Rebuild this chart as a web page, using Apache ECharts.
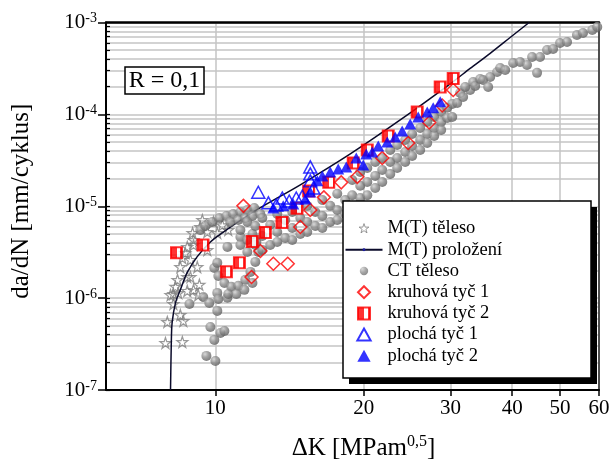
<!DOCTYPE html>
<html>
<head>
<meta charset="utf-8">
<script src="https://cdn.jsdelivr.net/npm/echarts@6/dist/echarts.min.js"></script>
<style>
  html, body { margin: 0; padding: 0; background: #fff; }
  #chart { width: 612px; height: 462px; }
</style>
</head>
<body>
<div id="chart"></div>
<script>
const SERIF = '"Liberation Serif", "Times New Roman", "DejaVu Serif", serif';

// Fatigue crack growth: [ΔK in MPa·m^0.5, da/dN in mm/cycle]
const mtBody = [
  [7.92,3.25e-7],[8.57,3.33e-7],[7.99,5.51e-7],[8.61,5.65e-7],[8.49,6.56e-7],[8.22,8.65e-7],
  [8.11,1.08e-6],[8.41,1.14e-6],[8.77,1.20e-6],[9.23,1.08e-6],[8.30,1.33e-6],[8.38,1.58e-6],
  [8.77,1.70e-6],[9.03,1.23e-6],[8.49,2.18e-6],[8.90,2.61e-6],[8.69,3.10e-6],[9.03,3.79e-6],
  [8.99,5.12e-6],[9.32,5.95e-6],[9.63,5.25e-6],[9.41,7.09e-6],[9.91,6.75e-6],[10.09,5.12e-6],
  [9.63,3.34e-6],[9.19,2.18e-6],[8.77,3.61e-6],[8.57,2.74e-6],[9.28,1.40e-6],[10.33,6.23e-6],
  [9.03,4.30e-6],[8.90,1.70e-6],[8.22,1.11e-6],[10.62,5.52e-6]
];

const mtFit = [
  [8.11,1.0e-7],[8.14,3.26e-7],[8.17,5.37e-7],[8.30,8.87e-7],[8.49,1.23e-6],[8.76,1.88e-6],
  [9.18,2.81e-6],[9.77,4.09e-6],[10.32,5.12e-6],[11.94,8.67e-6],[14.87,1.71e-5],[18.78,3.71e-5],
  [23.71,8.69e-5],[29.95,2.15e-4],[32.87,3.16e-4],[36.09,4.62e-4],[39.62,6.87e-4],[43.29,1.0e-3]
];

const ctBody = [
  // near-threshold tail
  [9.45,1.03e-6],[9.72,8.87e-7],[10.09,1.14e-6],[10.14,9.80e-7],[10.58,1.01e-6],[10.09,7.26e-7],
  [9.77,4.86e-7],[10.24,4.18e-7],[10.43,4.39e-7],[9.95,3.51e-7],[9.59,2.35e-7],[10.0,2.07e-7],
  [8.86,8.65e-7],
  [9.32,5.52e-6],[9.54,6.10e-6],[9.86,6.75e-6],[10.19,7.46e-6],[10.53,7.84e-6],[10.87,8.24e-6],
  [11.24,8.67e-6],[11.61,9.11e-6],[11.99,9.58e-6],[10.72,6.75e-6],[11.13,7.09e-6],[11.50,7.46e-6],
  [11.89,7.84e-6],[12.34,8.24e-6],
  [9.95,2.13e-6],[10.14,1.74e-6],[10.43,1.46e-6],[10.77,1.33e-6],[11.13,1.36e-6],[11.50,1.58e-6],
  [11.78,1.93e-6],[12.05,2.48e-6],[12.22,3.18e-6],[12.11,4.09e-6],[11.89,4.99e-6],[10.62,1.11e-6],
  [11.03,1.11e-6],[11.45,1.23e-6],[11.89,1.46e-6],[10.09,2.42e-6],[10.58,3.61e-6],[11.24,4.63e-6],
  // Paris region
  [11.24,5.52e-6],[11.24,3.79e-6],[11.61,6.75e-6],[11.61,4.30e-6],[11.61,3.18e-6],[12.05,6.10e-6],
  [12.05,3.79e-6],[12.45,7.46e-6],[12.45,4.75e-6],[12.45,3.35e-6],[12.92,6.25e-6],[12.92,3.79e-6],
  [13.35,8.24e-6],[13.35,5.25e-6],[13.35,4.09e-6],[13.86,7.09e-6],[13.86,4.52e-6],[14.32,8.67e-6],
  [14.32,5.81e-6],[14.32,4.30e-6],[14.87,7.46e-6],[14.87,4.99e-6],[15.36,1.01e-5],[15.36,6.75e-6],
  [15.36,5.25e-6],[15.95,8.67e-6],[15.95,6.10e-6],[16.48,1.17e-5],[16.48,7.84e-6],[16.48,5.81e-6],
  [17.10,1.01e-5],[17.10,6.75e-6],[17.67,1.37e-5],[17.67,9.11e-6],[17.67,7.09e-6],[18.34,1.17e-5],
  [18.34,8.24e-6],
  [18.95,1.93e-5],[18.95,1.32e-5],[18.95,9.58e-6],[19.67,2.36e-5],[19.67,1.67e-5],[19.67,1.23e-5],
  [20.33,2.61e-5],[20.33,1.84e-5],[20.33,1.32e-5],[21.10,3.03e-5],[21.10,2.14e-5],[21.10,1.58e-5],
  [21.80,3.35e-5],[21.80,2.48e-5],[21.80,1.84e-5],[22.63,4.10e-5],[22.63,3.03e-5],[22.63,2.25e-5],
  [23.38,4.64e-5],[23.38,3.35e-5],[23.38,2.61e-5],[24.27,5.27e-5],[24.27,3.90e-5],[24.27,3.03e-5],
  [25.07,6.12e-5],[25.07,4.53e-5],[25.07,3.53e-5],[26.03,7.11e-5],[26.03,5.27e-5],[26.03,4.10e-5],
  [26.90,8.27e-5],[26.90,6.12e-5],[26.90,4.88e-5],[27.79,9.37e-5],[27.79,7.11e-5],[27.79,5.82e-5],
  [28.71,1.06e-4],[28.71,8.27e-5],[28.71,6.76e-5],[29.53,1.18e-4],[29.53,9.14e-5],[30.23,1.30e-4],
  [30.23,9.37e-5],
  // upper region
  [30.94,1.33e-4],[31.37,1.71e-4],[31.81,1.55e-4],[32.87,1.84e-4],[32.12,1.99e-4],[33.33,2.25e-4],
  [33.65,2.04e-4],[34.44,2.43e-4],[34.92,2.37e-4],[36.09,2.55e-4],[35.76,1.99e-4],[37.29,2.89e-4],
  [37.81,3.20e-4],[38.71,3.04e-4],[40.18,3.62e-4],[41.50,3.72e-4],[42.87,3.45e-4],[43.90,4.21e-4],
  [44.93,2.83e-4],[45.56,4.21e-4],[47.08,5.02e-4],[48.42,5.15e-4],[50.02,5.98e-4],[51.68,6.13e-4],
  [54.13,7.31e-4],[55.68,7.69e-4],[58.14,8.29e-4],[59.52,8.93e-4]
];

const roundBar1 = [
  [11.40,1.01e-5],[11.84,1.70e-6],[12.34,3.26e-6],[13.11,2.37e-6],[14.02,2.37e-6],[14.87,5.95e-6],
  [15.58,9.11e-6],[16.60,1.25e-5],[18.00,1.82e-5],[19.40,2.09e-5],[21.80,3.35e-5],[24.61,4.88e-5],
  [27.15,8.17e-5],[28.85,1.25e-4],[30.37,1.84e-4]
];

const roundBar2 = [
  [8.34,3.11e-6],[9.44,3.79e-6],[10.53,1.94e-6],[11.19,2.43e-6],[11.88,4.14e-6],[12.63,5.19e-6],
  [13.65,6.66e-6],[14.64,9.51e-6],[15.46,1.47e-5],[16.98,1.82e-5],[19.04,2.96e-5],[20.33,4.10e-5],
  [22.42,5.82e-5],[25.67,1.06e-4],[28.58,1.99e-4],[30.37,2.46e-4]
];

const flatBar1 = [
  [12.22,1.42e-5],[12.81,1.09e-5],[13.29,1.03e-5],[13.67,1.23e-5],[14.12,1.14e-5],[14.59,1.23e-5],
  [15.01,1.29e-5],[15.58,2.68e-5],[15.58,2.25e-5],[15.58,1.89e-5],[15.80,1.58e-5]
];

const flatBar2 = [
  [13.11,9.58e-6],[13.73,1.01e-5],[14.39,1.06e-5],[15.22,1.20e-5],[15.58,1.43e-5],[16.10,1.89e-5],
  [16.48,2.14e-5],[17.10,2.36e-5],[17.75,2.54e-5],[18.43,2.68e-5],[19.31,3.35e-5],[19.95,2.82e-5],
  [20.23,3.71e-5],[20.81,3.90e-5],[21.40,4.53e-5],[22.32,5.01e-5],[23.16,5.67e-5],[23.93,6.60e-5],
  [24.84,7.87e-5],[25.79,9.37e-5],[26.90,1.06e-4],[27.66,1.18e-4],[28.58,1.37e-4]
];

// Axis ticks
const xTickValues = [10, 20, 30, 40, 50, 60];
const yDecades = [1e-7, 1e-6, 1e-5, 1e-4, 1e-3];
const yMantissas = [1, 2, 3, 4, 5, 6, 7, 8, 9];
const yGridValues = [];
yDecades.forEach(function (d) {
  yMantissas.forEach(function (m) {
    const v = m * d;
    if (v <= 1.0001e-3) yGridValues.push(v);
  });
});

const X_MIN = 6, X_MAX = 60, Y_MIN = 1e-7, Y_MAX = 1e-3;

// Marker shapes as paths so legend icons keep their aspect ratio
const STAR = 'path://M50,0L61.8,35.1L98.9,35.1L69,57.3L80.3,92.7L50,70.8L19.7,92.7L31,57.3L1.1,35.1L38.2,35.1Z';
const SMALL_STAR = 'path://M0,0M120,120M60,10L71.8,45.1L108.9,45.1L79,67.3L90.3,102.7L60,80.8L29.7,102.7L41,67.3L11.1,45.1L48.2,45.1Z';
const DIAMOND = 'path://M5,0L10,5L5,10L0,5Z';
const SQUARE = 'path://M0,0L10,0L10,10L0,10Z';
const TRIANGLE = 'path://M5,0L10,9L0,9Z';
const SMALL_DOT = 'path://M0,0M10,10M5,3.5A1.5,1.5,0,1,1,4.99,3.5Z';
const SMALL_BALL = 'path://M0,0M12,12M6,1.8A4.2,4.2,0,1,1,5.99,1.8Z';

const sphere = new echarts.graphic.RadialGradient(0.36, 0.32, 0.7, [
  { offset: 0, color: '#cfcfcf' },
  { offset: 0.45, color: '#8f8f8f' },
  { offset: 1, color: '#5e5e5e' }
]);
const halfBar = new echarts.graphic.LinearGradient(0, 0, 1, 0, [
  { offset: 0, color: '#ff0000' },
  { offset: 0.5, color: '#ff0000' },
  { offset: 0.5, color: '#ffffff' },
  { offset: 0.8, color: '#ffffff' },
  { offset: 0.8, color: '#ff0000' },
  { offset: 1, color: '#ff0000' }
]);
const CLEAR = 'rgba(255,255,255,0)';

const logAxisBase = { type: 'log', logBase: 10 };

const chart = echarts.init(document.getElementById('chart'), null, { renderer: 'canvas' });
chart.setOption({
  animation: false,
  textStyle: { fontFamily: SERIF },
  grid: { left: 106, right: 13, top: 22.5, bottom: 72, outerBoundsMode: 'none', containLabel: false },
  xAxis: [
    Object.assign({}, logAxisBase, {
      min: X_MIN, max: X_MAX, position: 'bottom',
      axisLine: { show: true, onZero: false, lineStyle: { color: '#000', width: 2 } },
      axisTick: { show: true, customValues: xTickValues, inside: false, length: 6, lineStyle: { color: '#000', width: 1.5 } },
      axisLabel: { show: true, customValues: xTickValues, margin: 8, color: '#000', fontFamily: SERIF, fontSize: 21 },
      splitLine: { show: true, lineStyle: { color: '#c4c4c4', width: 1.5 } },
      minorTick: { show: false }, minorSplitLine: { show: false },
      name: '{t|ΔK [MPam}{s|0,5}{t|]}', nameLocation: 'middle', nameGap: 44, nameMoveOverlap: false,
      nameTextStyle: {
        padding: [0, 0, 0, 22],
        rich: {
          t: { fontSize: 25, fontFamily: SERIF, color: '#000', lineHeight: 28 },
          s: { fontSize: 16, fontFamily: SERIF, color: '#000', verticalAlign: 'top' }
        }
      }
    }),
    Object.assign({}, logAxisBase, {
      min: X_MIN, max: X_MAX, position: 'top',
      axisLine: { show: true, onZero: false, lineStyle: { color: '#000', width: 2.5 } },
      axisTick: { show: false }, axisLabel: { show: false }, splitLine: { show: false }
    })
  ],
  yAxis: [
    Object.assign({}, logAxisBase, {
      min: Y_MIN, max: Y_MAX, position: 'left',
      axisLine: { show: true, onZero: false, lineStyle: { color: '#000', width: 2 } },
      axisTick: { show: true, customValues: yGridValues, inside: true, length: 4, lineStyle: { color: '#000', width: 1.2 } },
      axisLabel: {
        show: true, customValues: yDecades, margin: 9,
        formatter: function (v) { return '{b|10}{s|' + Math.round(Math.log10(v)) + '}'; },
        rich: {
          b: { fontSize: 21, fontFamily: SERIF, color: '#000', lineHeight: 22 },
          s: { fontSize: 14, fontFamily: SERIF, color: '#000', verticalAlign: 'top' }
        }
      },
      splitLine: { show: true, lineStyle: { color: '#c4c4c4', width: 1.5 } },
      minorTick: { show: false }, minorSplitLine: { show: false },
      name: 'da/dN [mm/cyklus]', nameLocation: 'middle', nameGap: 72, nameRotate: 90, nameMoveOverlap: false,
      nameTextStyle: { fontSize: 25, fontFamily: SERIF, color: '#000', padding: [0, 0, 0, 10] }
    }),
    Object.assign({}, logAxisBase, {
      min: Y_MIN, max: Y_MAX, position: 'left',
      axisLine: { show: false },
      axisTick: { show: true, customValues: yDecades, inside: false, length: 8, lineStyle: { color: '#000', width: 1.5 } },
      axisLabel: { show: false }, splitLine: { show: false }
    }),
    Object.assign({}, logAxisBase, {
      min: Y_MIN, max: Y_MAX, position: 'right',
      axisLine: { show: true, onZero: false, lineStyle: { color: '#222', width: 1.5 } },
      axisTick: { show: false }, axisLabel: { show: false }, splitLine: { show: false }
    })
  ],
  legend: {
    orient: 'vertical', left: 344.5, top: 218, padding: 0, itemGap: 0,
    itemWidth: 37, itemHeight: 12, selectedMode: false, z: 200, symbolKeepAspect: true,
    textStyle: { fontFamily: SERIF, fontSize: 18.5, color: '#000', lineHeight: 21.2 },
    data: [
      { name: 'M(T) těleso', icon: SMALL_STAR, itemStyle: { borderWidth: 1 } },
      { name: 'M(T) proložení' },
      { name: 'CT těleso', icon: SMALL_BALL },
      { name: 'kruhová tyč 1' },
      { name: 'kruhová tyč 2' },
      { name: 'plochá tyč 1' },
      { name: 'plochá tyč 2' }
    ]
  },
  graphic: [
    { type: 'rect', z: 100, silent: true, shape: { x: 349, y: 207, width: 248, height: 177 }, style: { fill: '#000' } },
    { type: 'rect', z: 101, silent: true, shape: { x: 343, y: 201, width: 248, height: 177 }, style: { fill: '#fff', stroke: '#000', lineWidth: 1.5 } },
    { type: 'rect', z: 101, silent: true, shape: { x: 125, y: 67, width: 79, height: 27 }, style: { fill: '#fff', stroke: '#000', lineWidth: 1.5 } },
    { type: 'text', z: 102, silent: true, x: 164.5, y: 81,
      style: { text: 'R = 0,1', fontSize: 24, fontFamily: SERIF, fill: '#000', align: 'center', verticalAlign: 'middle' } }
  ],
  series: [
    {
      name: 'M(T) těleso', type: 'scatter', data: mtBody, z: 3,
      symbol: STAR, symbolSize: 11,
      itemStyle: { color: CLEAR, borderColor: '#7f7f7f', borderWidth: 1.2 },
      emphasis: { disabled: true }
    },
    {
      name: 'M(T) proložení', type: 'line', data: mtFit, z: 4,
      showSymbol: false, symbol: SMALL_DOT, symbolSize: 3,
      smooth: 0.3, clip: true,
      lineStyle: { color: '#0a0a2a', width: 1.5 },
      itemStyle: { color: '#1c1c9c' },
      emphasis: { disabled: true }
    },
    {
      name: 'CT těleso', type: 'scatter', data: ctBody, z: 5,
      symbol: 'circle', symbolSize: 10,
      itemStyle: { color: sphere },
      emphasis: { disabled: true }
    },
    {
      name: 'kruhová tyč 1', type: 'scatter', data: roundBar1, z: 6,
      symbol: DIAMOND, symbolSize: 13,
      itemStyle: { color: CLEAR, borderColor: '#ff0000', borderWidth: 1.5 },
      emphasis: { disabled: true }
    },
    {
      name: 'kruhová tyč 2', type: 'scatter', data: roundBar2, z: 7,
      symbol: SQUARE, symbolSize: 11,
      itemStyle: { color: halfBar, borderColor: '#ff0000', borderWidth: 2 },
      emphasis: { disabled: true }
    },
    {
      name: 'plochá tyč 1', type: 'scatter', data: flatBar1, z: 8,
      symbol: TRIANGLE, symbolSize: [13, 12],
      itemStyle: { color: CLEAR, borderColor: '#0000ff', borderWidth: 1.5 },
      emphasis: { disabled: true }
    },
    {
      name: 'plochá tyč 2', type: 'scatter', data: flatBar2, z: 9,
      symbol: TRIANGLE, symbolSize: [12, 11],
      itemStyle: { color: '#0000ff' },
      emphasis: { disabled: true }
    }
  ]
});
</script>
</body>
</html>
